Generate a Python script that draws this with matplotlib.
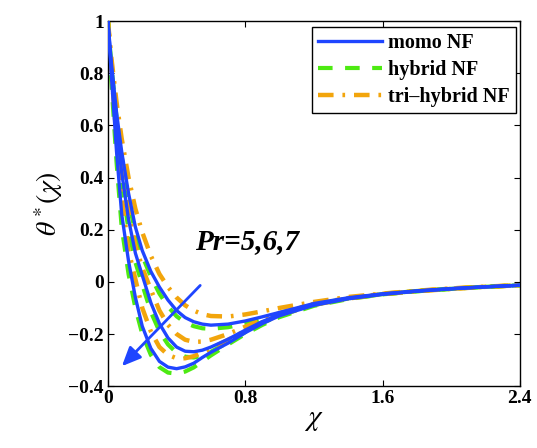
import numpy as np
import matplotlib.pyplot as plt

plt.rcParams['font.family'] = ['Liberation Serif', 'DejaVu Serif']
plt.rcParams['mathtext.fontset'] = 'stix'

# similarity variable
chi = [0, 0.02, 0.05, 0.08, 0.12, 0.16, 0.2, 0.25, 0.3, 0.35, 0.4, 0.45, 0.5,
       0.55, 0.6, 0.7, 0.8, 0.9, 1.0, 1.2, 1.4, 1.6, 1.8, 2.0, 2.2, 2.4]

# temperature profiles, Pr = 5, 6, 7
mono_pr5 = [1, 0.84, 0.65, 0.5, 0.34, 0.21, 0.12, 0.04, -0.02, -0.07, -0.11, -0.137, -0.153,
            -0.162, -0.166, -0.162, -0.15, -0.134, -0.117, -0.083, -0.061, -0.046, -0.035, -0.026, -0.019, -0.013]
mono_pr6 = [1, 0.82, 0.6, 0.42, 0.24, 0.11, 0.025, -0.08, -0.16, -0.215, -0.25, -0.266, -0.268,
            -0.262, -0.25, -0.22, -0.185, -0.152, -0.125, -0.087, -0.063, -0.047, -0.035, -0.026, -0.019, -0.013]
mono_pr7 = [1, 0.79, 0.5, 0.26, 0.08, -0.06, -0.17, -0.255, -0.305, -0.327, -0.333, -0.326, -0.312,
            -0.29, -0.27, -0.235, -0.195, -0.16, -0.13, -0.09, -0.065, -0.048, -0.036, -0.027, -0.019, -0.013]

hybrid_pr5 = [1, 0.83, 0.63, 0.48, 0.31, 0.19, 0.1, 0.02, -0.045, -0.095, -0.132, -0.156, -0.17,
              -0.178, -0.18, -0.174, -0.16, -0.142, -0.123, -0.087, -0.063, -0.047, -0.035, -0.026, -0.019, -0.013]
hybrid_pr6 = [1, 0.8, 0.57, 0.38, 0.2, 0.075, -0.01, -0.115, -0.19, -0.24, -0.272, -0.287, -0.29,
              -0.283, -0.268, -0.232, -0.193, -0.158, -0.129, -0.089, -0.064, -0.048, -0.036, -0.027, -0.019, -0.013]
hybrid_pr7 = [1, 0.77, 0.46, 0.21, 0.03, -0.1, -0.2, -0.28, -0.327, -0.348, -0.352, -0.344, -0.328,
              -0.305, -0.282, -0.24, -0.2, -0.165, -0.135, -0.092, -0.066, -0.048, -0.036, -0.027, -0.019, -0.013]

tri_pr5 = [1, 0.86, 0.69, 0.55, 0.4, 0.28, 0.19, 0.1, 0.03, -0.02, -0.06, -0.09, -0.11,
           -0.124, -0.131, -0.133, -0.125, -0.113, -0.1, -0.077, -0.058, -0.045, -0.034, -0.025, -0.018, -0.013]
tri_pr6 = [1, 0.83, 0.62, 0.45, 0.27, 0.14, 0.055, -0.03, -0.11, -0.165, -0.2, -0.222, -0.23,
           -0.229, -0.222, -0.2, -0.172, -0.144, -0.12, -0.084, -0.062, -0.046, -0.035, -0.026, -0.019, -0.013]
tri_pr7 = [1, 0.81, 0.55, 0.33, 0.12, 0.01, -0.1, -0.19, -0.25, -0.28, -0.293, -0.293, -0.285,
           -0.272, -0.256, -0.222, -0.188, -0.155, -0.127, -0.088, -0.064, -0.047, -0.036, -0.027, -0.019, -0.013]

blue = '#1f45ff'
green = '#4dea12'
orange = '#f2a50c'

fig = plt.figure(figsize=(5.37, 4.48), dpi=100)
ax = fig.add_axes([0.201, 0.138, 0.767, 0.815])

for i, (m, h, t) in enumerate(zip([mono_pr5, mono_pr6, mono_pr7],
                                  [hybrid_pr5, hybrid_pr6, hybrid_pr7],
                                  [tri_pr5, tri_pr6, tri_pr7])):
    ax.plot(chi, m, color=blue, lw=2.4, ls='-', label='momo NF' if i == 0 else None, zorder=3)
    ax.plot(chi, h, color=green, lw=3.0, ls=(0, (3.5, 3)), label='hybrid NF' if i == 0 else None, zorder=2)
    ax.plot(chi, t, color=orange, lw=3.2, ls=(0, (3.5, 2, 0.6, 2)), label='tri–hybrid NF' if i == 0 else None, zorder=2)

# direction of increasing Pr
ax.annotate('', xy=(0.07, -0.331), xytext=(0.549, -0.006),
            arrowprops=dict(arrowstyle='-|>,head_length=0.5,head_width=0.22',
                            color=blue, lw=2.0, mutation_scale=23))
ax.text(0.51, 0.155, 'Pr=5,6,7', fontsize=21, fontweight='bold', fontstyle='italic',
        va='center', ha='left')

ax.set_xlim(0, 2.4)
ax.set_ylim(-0.4, 1)
ax.set_xticks([0, 0.8, 1.6, 2.4])
ax.set_xticklabels(['0', '0.8', '1.6', '2.4'])
ax.set_yticks([-0.4, -0.2, 0, 0.2, 0.4, 0.6, 0.8, 1])
ax.set_yticklabels(['\u22120.4', '\u22120.2', '0', '0.2', '0.4', '0.6', '0.8', '1'])
ax.tick_params(direction='in', top=True, right=True, length=4, width=0.8,
               labelsize=14, pad=3)
for lab in ax.get_xticklabels() + ax.get_yticklabels():
    lab.set_fontweight('bold')
for s in ax.spines.values():
    s.set_linewidth(1.0)

ax.set_xlabel(r'$\chi$', fontsize=21, labelpad=0)
ax.set_ylabel(r'$\theta^*(\chi)$', fontsize=20, labelpad=2)

leg = ax.legend(loc='upper right', bbox_to_anchor=(0.99, 0.985), fancybox=False,
                edgecolor='black', framealpha=1, handlelength=3.2, handletextpad=0.3,
                borderpad=0.3, labelspacing=0.35, borderaxespad=0.0,
                prop={'weight': 'bold', 'size': 14.5})
leg.get_frame().set_linewidth(1.0)

fig.savefig('out.png', dpi=100)
